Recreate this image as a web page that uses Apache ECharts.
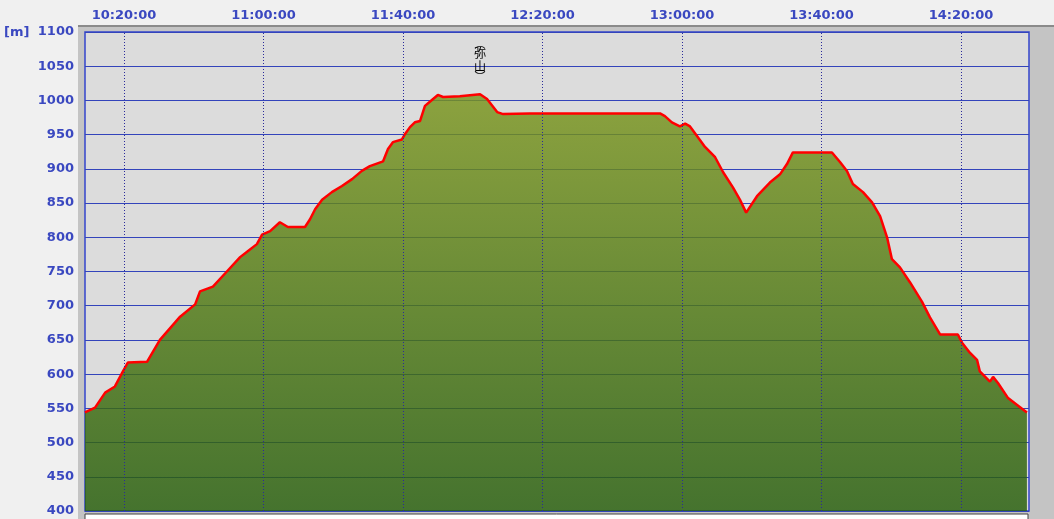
<!DOCTYPE html>
<html><head><meta charset="utf-8">
<script src="https://cdn.jsdelivr.net/npm/echarts@6/dist/echarts.min.js"></script>
<style>html,body{margin:0;padding:0;background:#f0f0f0;}#c{width:1054px;height:519px;}</style>
</head><body><div id="c"></div>
<script>
// time in minutes after midnight
const minutes = [608.8,611.7,614.6,617.4,619.7,621.1,626.6,630.3,636.1,640.4,641.8,645.5,649.5,653.3,655.3,658.1,659.6,661.9,664.7,667.0,671.9,673.3,674.8,676.8,679.6,682.5,685.4,688.2,690.5,694.3,695.7,697.1,699.7,700.6,702.0,703.4,704.9,706.3,707.7,710.0,711.5,716.3,722.1,724.1,727.0,728.7,736.4,762.2,770.8,773.7,775.1,777.1,779.4,780.9,782.3,784.3,786.6,789.5,791.8,794.6,796.6,798.4,801.5,805.2,808.1,810.1,811.8,819.6,823.0,825.3,827.3,829.0,831.9,834.5,836.8,838.8,840.2,842.5,845.4,848.8,851.1,854.0,859.1,860.3,862.6,864.6,865.4,868.3,869.2,870.6,873.5,876.1,878.9];
const elevation = [544,551,573,582,604,617,618,650,684,702,721,728,750,771,779,790,804,809,822,815,815,826,841,855,866,875,885,897,904,911,929,939,943,951,961,968,970,992,998,1008,1005,1006,1009,1002,983,980,981,981,981,981,977,968,962,966,962,948,932,917,895,873,855,836,860,880,892,907,924,924,924,910,897,878,866,851,831,800,768,756,734,706,683,658,658,646,631,621,604,589,596,587,565,555,544];
const timeTicks = [620,660,700,740,780,820,860];
const peakName = '弥山';
const peakTime = 722.1, peakElev = 1009;

const fmt = v => { const h = Math.floor(v/60), m = Math.round(v%60); return h + ':' + String(m).padStart(2,'0') + ':00'; };
const blue = '#3a48c0';
const chart = echarts.init(document.getElementById('c'), null, {renderer:'canvas'});
chart.setOption({
  animation:false,
  backgroundColor:'#f0f0f0',
  graphic:[
    {type:'rect', z:-10, shape:{x:78,y:26,width:976,height:493}, style:{fill:'#c4c4c4'}},
    {type:'line', z:-9, shape:{x1:78,y1:26,x2:1054,y2:26}, style:{stroke:'#8a8a8a',lineWidth:2}},
    {type:'rect', z:-9, shape:{x:85,y:514,width:943,height:10}, style:{fill:'#ffffff',stroke:'#404040',lineWidth:1}},
    {type:'text', left:4, top:26, style:{text:'[m]', fill:blue, font:'bold 13px "DejaVu Sans"'}}
  ],
  grid:{left:85,right:25,top:32,bottom:8,show:true,backgroundColor:'#dcdcdc',borderColor:'#3344cc',borderWidth:1.5},
  xAxis:{type:'value',position:'top',min:608.82,max:879.5,
    axisLine:{show:false},axisTick:{show:false},splitLine:{show:false},
    axisLabel:{customValues:timeTicks,formatter:fmt,color:blue,fontFamily:'DejaVu Sans',fontWeight:'bold',fontSize:13,margin:10}},
  yAxis:{type:'value',min:400,max:1100,interval:50,
    axisLine:{show:false},axisTick:{show:false},
    splitLine:{show:true,lineStyle:{color:'#3344bb',width:1.2}},
    axisLabel:{formatter:v=>String(v),color:blue,fontFamily:'DejaVu Sans',fontWeight:'bold',fontSize:13,margin:11,showMinLabel:true,showMaxLabel:true}},
  series:[{
    type:'line',data:minutes.map((t,i)=>[t,elevation[i]]),
    symbol:'none',lineStyle:{color:'#ff0000',width:2.5},
    areaStyle:{opacity:0.82,color:new echarts.graphic.LinearGradient(0,0,0,1,[{offset:0,color:'#7a951c'},{offset:1,color:'#245c08'}])},
    markLine:{silent:true,symbol:'none',label:{show:false},
      lineStyle:{color:'#2a2a9a',type:[1,2],width:1,opacity:1},
      data:timeTicks.map(t=>({xAxis:t}))},
    markPoint:{silent:true,symbol:'circle',symbolSize:0,
      data:[{coord:[peakTime,peakElev],value:peakName}],
      label:{show:true,position:'inside',offset:[0,-34],
        formatter:'{b|︵}\n{c|弥}\n{c|山}\n{b|︶}',
        rich:{b:{fontSize:11,lineHeight:7,color:'#000',fontFamily:'Noto Sans CJK JP'},c:{fontSize:12,lineHeight:13,color:'#000',fontFamily:'Noto Sans CJK JP'}}}}
  }]
});
</script></body></html>
